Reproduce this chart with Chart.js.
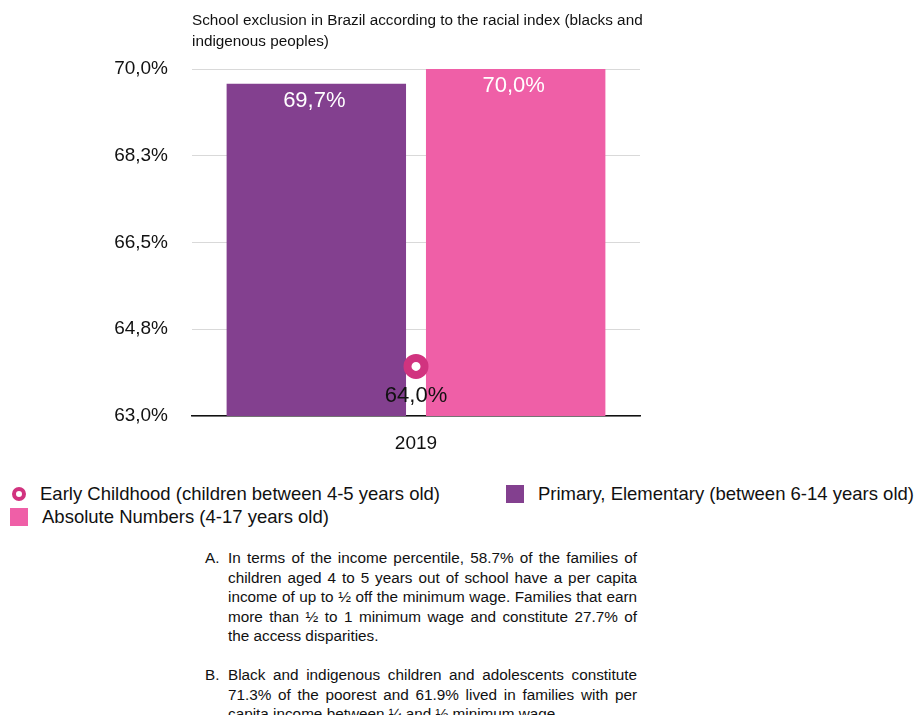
<!DOCTYPE html>
<html>
<head>
<meta charset="utf-8">
<script src="https://cdn.jsdelivr.net/npm/chart.js@4.4.1/dist/chart.umd.min.js"></script>
<style>
  body { margin: 0; background: #fff; font-family: "Liberation Sans", Arial, sans-serif; color: #111; }
  #wrap { position: relative; width: 914px; height: 715px; overflow: hidden; }
  #title { position: absolute; left: 192px; top: 9px; font-size: 15.3px; line-height: 21px; color: #111; }
  #chart { position: absolute; left: 0; top: 0; }
  #legend { position: absolute; left: 0; top: 482px; width: 914px; font-size: 18.5px; }
  .item { position: absolute; display: flex; align-items: center; white-space: nowrap; height: 23px; }
  .box { width: 18px; height: 18px; margin-right: 14px; }
  .ring { width: 6px; height: 6px; border-radius: 50%; border: 4px solid; background: #fff; margin: 0 14px 0 2px; }
  #notes { position: absolute; left: 198px; top: 548px; width: 439px; font-size: 15.3px; line-height: 19.5px; }
  #notes ol { list-style: upper-alpha; margin: 0; padding-left: 30px; }
  #notes li { margin-bottom: 19.5px; padding-left: 0; }
  #notes li::marker { content: counter(list-item, upper-alpha) ".  "; }
  #notes .ln { display: block; white-space: nowrap; text-align: justify; text-align-last: justify; }
  #notes .ln.end { text-align-last: left; }
</style>
</head>
<body>
<div id="wrap">
  <canvas id="chart" width="914" height="460"></canvas>
  <div id="title">School exclusion in Brazil according to the racial index (blacks and<br>indigenous peoples)</div>
  <div id="legend"></div>
  <div id="notes">
    <ol>
      <li><span class="ln">In terms of the income percentile, 58.7% of the families of</span><span class="ln">children aged 4 to 5 years out of school have a per capita</span><span class="ln">income of up to ½ off the minimum wage. Families that earn</span><span class="ln">more than ½ to 1 minimum wage and constitute 27.7% of</span><span class="ln end">the access disparities.</span></li>
      <li><span class="ln">Black and indigenous children and adolescents constitute</span><span class="ln">71.3% of the poorest and 61.9% lived in families with per</span><span class="ln end">capita income between ¼ and ½ minimum wage.</span></li>
    </ol>
  </div>
</div>
<script>
const years = ['2019'];
const earlyChildhood = [64.0];
const primaryElementary = [69.7];
const absoluteNumbers = [70.0];
const yTicks = [63.0, 64.75, 66.5, 68.25, 70.0];

const fmt = v => v.toFixed(1).replace('.', ',') + '%';

// value labels: white inside the bars, dark under the point
const valueLabels = {
  id: 'valueLabels',
  afterDatasetsDraw(chart) {
    const ctx = chart.ctx;
    ctx.save();
    ctx.font = '22px "Liberation Sans", Arial, sans-serif';
    ctx.textAlign = 'center';
    ctx.textBaseline = 'middle';
    chart.data.datasets.forEach((ds, i) => {
      chart.getDatasetMeta(i).data.forEach((el, j) => {
        const v = ds.data[j];
        if (ds.type === 'line') {
          ctx.fillStyle = '#111';
          ctx.fillText(fmt(v), el.x, el.y + 30);
        } else {
          ctx.fillStyle = '#fff';
          ctx.fillText(fmt(v), el.x - 2, el.y + 17);
        }
      });
    });
    ctx.restore();
  }
};

const chart = new Chart(document.getElementById('chart'), {
  data: {
    labels: years,
    datasets: [
      {
        type: 'line',
        label: 'Early Childhood (children between 4-5 years old)',
        data: earlyChildhood,
        showLine: false,
        pointStyle: 'circle',
        pointRadius: 8.5,
        pointBorderWidth: 8,
        borderColor: '#d1337f',
        backgroundColor: '#ffffff',
        pointBackgroundColor: '#ffffff',
        order: 0
      },
      {
        type: 'bar',
        label: 'Primary, Elementary (between 6-14 years old)',
        data: primaryElementary,
        backgroundColor: '#83408f',
        categoryPercentage: 0.89,
        barPercentage: 0.9,
        order: 1
      },
      {
        type: 'bar',
        label: 'Absolute Numbers (4-17 years old)',
        data: absoluteNumbers,
        backgroundColor: '#ef5fa7',
        categoryPercentage: 0.89,
        barPercentage: 0.9,
        order: 1
      }
    ]
  },
  options: {
    responsive: false,
    animation: false,
    layout: { padding: { top: 69, right: 274, left: 0, bottom: 0 } },
    scales: {
      x: {
        grid: { display: false },
        border: { color: '#111', width: 1.5 },
        ticks: { color: '#111', font: { size: 19, family: '"Liberation Sans", Arial, sans-serif' }, padding: 8 },
        afterFit(scale) { scale.height = 44; }
      },
      y: {
        min: 63,
        max: 70,
        afterBuildTicks(scale) { scale.ticks = yTicks.map(v => ({ value: v })); },
        afterFit(scale) { scale.width = 192; },
        border: { display: false },
        grid: { color: '#d9d9d9', lineWidth: 1, drawTicks: false },
        ticks: {
          color: '#111',
          padding: 24,
          font: { size: 19, family: '"Liberation Sans", Arial, sans-serif' },
          callback: v => fmt(v)
        }
      }
    },
    plugins: {
      legend: { display: false },
      tooltip: { enabled: false }
    }
  },
  plugins: [valueLabels]
});

// legend below the chart, laid out in two columns
const legend = document.getElementById('legend');
const spots = [[10, 0], [506, 0], [10, 23]];
chart.data.datasets.forEach((ds, i) => {
  const item = document.createElement('div');
  item.className = 'item';
  item.style.left = spots[i][0] + 'px';
  item.style.top = spots[i][1] + 'px';
  const mark = document.createElement('span');
  if (ds.type === 'line') {
    mark.className = 'ring';
    mark.style.borderColor = ds.borderColor;
  } else {
    mark.className = 'box';
    mark.style.background = ds.backgroundColor;
  }
  item.appendChild(mark);
  item.appendChild(document.createTextNode(ds.label));
  legend.appendChild(item);
});
</script>
</body>
</html>
